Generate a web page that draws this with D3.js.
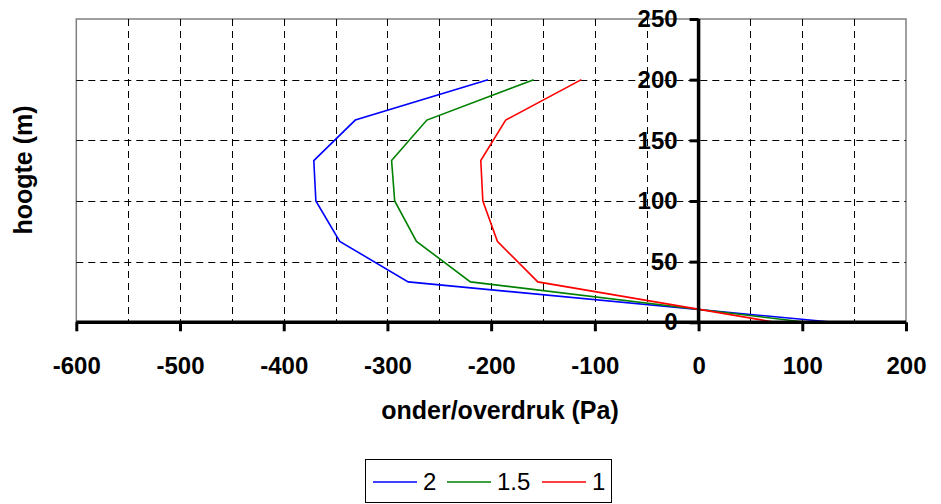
<!DOCTYPE html>
<html>
<head>
<meta charset="utf-8">
<script src="https://cdn.jsdelivr.net/npm/d3@7"></script>
<style>
  html, body { margin: 0; padding: 0; background: #fff; }
  svg { display: block; }
  text { font-family: "Liberation Sans", Arial, sans-serif; }
</style>
</head>
<body>
<svg id="chart" width="941" height="504"></svg>
<script>
// Data
const heights = [0, 33.3, 66.7, 100, 133.3, 166.7, 200];
const series2 = [130, -280, -346, -369, -371, -331, -203];
const series15 = [104, -220, -272, -293, -296, -262, -159];
const series1 = [74, -155, -194, -208, -210, -186, -113];
const seriesNames = ["2", "1.5", "1"];
const seriesColors = ["#0000ff", "#008000", "#ff0000"];
const xTicks = [-600, -500, -400, -300, -200, -100, 0, 100, 200];
const yTicks = [0, 50, 100, 150, 200, 250];
const xGrid = d3.range(-550, 200, 50);
const yGrid = [50, 100, 150, 200];

const allSeries = [series2, series15, series1];

const svg = d3.select("#chart");
const x = d3.scaleLinear().domain([-600, 200]).range([76.3, 906]);
const y = d3.scaleLinear().domain([0, 250]).range([322.3, 19]);
const fmt = d => String(d);

// plot area border
svg.append("rect")
  .attr("x", x(-600)).attr("y", y(250))
  .attr("width", x(200) - x(-600)).attr("height", y(0) - y(250))
  .attr("fill", "#fff").attr("stroke", "#808080").attr("stroke-width", 1.5);

// grid
svg.append("g").selectAll("line").data(xGrid).join("line")
  .attr("x1", d => Math.round(x(d)) + 0.5).attr("x2", d => Math.round(x(d)) + 0.5)
  .attr("y1", y(250)).attr("y2", y(0))
  .attr("stroke", "#000").attr("stroke-width", 1).attr("stroke-dasharray", "7,5");
svg.append("g").selectAll("line").data(yGrid).join("line")
  .attr("y1", d => Math.round(y(d)) + 0.5).attr("y2", d => Math.round(y(d)) + 0.5)
  .attr("x1", x(-600)).attr("x2", x(200))
  .attr("stroke", "#000").attr("stroke-width", 1).attr("stroke-dasharray", "7,5");

// series lines
const line = d3.line().x(d => x(d[0])).y(d => y(d[1]));
allSeries.forEach((s, i) => {
  svg.append("path")
    .datum(s.map((v, j) => [v, heights[j]]))
    .attr("d", line)
    .attr("fill", "none")
    .attr("stroke", seriesColors[i])
    .attr("stroke-width", 1.6);
});

// x axis
const xAxis = d3.axisBottom(x).tickValues(xTicks).tickSize(9).tickPadding(26).tickFormat(fmt);
const gx = svg.append("g").attr("transform", `translate(0,${y(0)})`).call(xAxis);
gx.select(".domain").attr("stroke", "#000").attr("stroke-width", 3.5).attr("d", `M${x(-600)},0H${x(200)}`);
gx.selectAll(".tick line").attr("stroke", "#000").attr("stroke-width", 3);
gx.selectAll(".tick text")
  .attr("font-size", "24px").attr("font-weight", "bold").attr("fill", "#000")
  .attr("font-family", "Liberation Sans, Arial, sans-serif");

// y axis at x=0
const yAxis = d3.axisLeft(y).tickValues(yTicks).tickSize(9).tickPadding(12).tickFormat(fmt);
const gy = svg.append("g").attr("transform", `translate(${x(0)},0)`).call(yAxis);
gy.select(".domain").attr("stroke", "#000").attr("stroke-width", 3.5).attr("d", `M0,${y(0)}V${y(250)}`);
gy.selectAll(".tick line").attr("stroke", "#000").attr("stroke-width", 3);
gy.selectAll(".tick text")
  .attr("font-size", "24px").attr("font-weight", "bold").attr("fill", "#000")
  .attr("font-family", "Liberation Sans, Arial, sans-serif");

// axis titles
svg.append("text")
  .attr("x", 500).attr("y", 419)
  .attr("text-anchor", "middle")
  .attr("font-size", "25px").attr("font-weight", "bold")
  .text("onder/overdruk (Pa)");
svg.append("text")
  .attr("transform", "translate(32,170) rotate(-90)")
  .attr("text-anchor", "middle")
  .attr("font-size", "25px").attr("font-weight", "bold")
  .text("hoogte (m)");

// legend
const lg = svg.append("g");
lg.append("rect").attr("x", 365.5).attr("y", 459.5).attr("width", 246).attr("height", 43)
  .attr("fill", "#fff").attr("stroke", "#000").attr("stroke-width", 1);
const legendX = [373, 447, 542];
seriesNames.forEach((n, i) => {
  lg.append("line").attr("x1", legendX[i]).attr("x2", legendX[i] + 44)
    .attr("y1", 482).attr("y2", 482)
    .attr("stroke", seriesColors[i]).attr("stroke-width", 1.6);
  lg.append("text").attr("x", legendX[i] + 50).attr("y", 490)
    .attr("font-size", "24px").text(n);
});
</script>
</body>
</html>
